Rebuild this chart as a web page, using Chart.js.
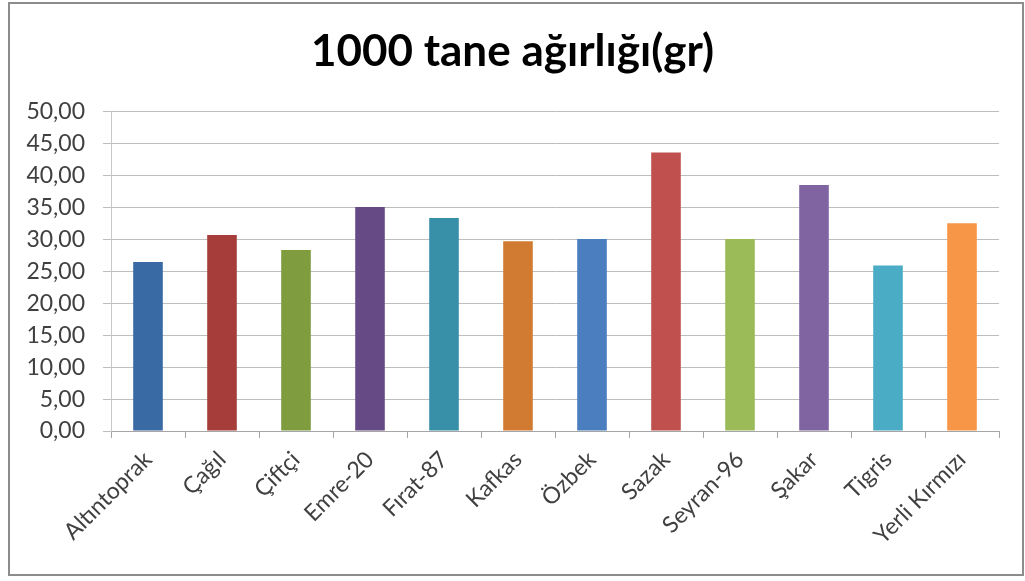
<!DOCTYPE html>
<html>
<head>
<meta charset="utf-8">
<script src="https://cdn.jsdelivr.net/npm/chart.js@4/dist/chart.umd.min.js"></script>
<style>
  html, body { margin: 0; padding: 0; background: #ffffff; }
  canvas { display: block; }
</style>
</head>
<body>
<canvas id="c" width="1025" height="581"></canvas>
<script>
// 1000-kernel weight (g) per variety
const varieties = ["Altıntoprak", "Çağıl", "Çiftçi", "Emre-20", "Fırat-87", "Kafkas",
                   "Özbek", "Sazak", "Seyran-96", "Şakar", "Tigris", "Yerli Kırmızı"];
const kernelWeight = [26.46, 30.70, 28.35, 35.09, 33.37, 29.71,
                      30.07, 43.62, 30.07, 38.55, 25.94, 32.53];
const barColors = ["#3a6aa3", "#a63d3b", "#7f9d3f", "#664a86", "#378fa8", "#d17b32",
                   "#4a7ebe", "#c0504d", "#9bbb59", "#8064a2", "#4bacc6", "#f79646"];
const yMin = 0, yMax = 50, yStep = 5;
const titleText = "1000 tane ağırlığı(gr)";

const FONT = "Lato, 'Open Sans', 'Liberation Sans', sans-serif";

// Outer frame around the whole chart
const framePlugin = {
  id: 'frame',
  afterDraw(chart) {
    const ctx = chart.ctx;
    ctx.save();
    ctx.strokeStyle = '#8c8c8c';
    ctx.lineWidth = 2;
    ctx.strokeRect(9, 3, 1014, 572);
    ctx.restore();
  }
};

new Chart(document.getElementById('c'), {
  type: 'bar',
  data: {
    labels: varieties,
    datasets: [{
      data: kernelWeight,
      backgroundColor: barColors,
      borderWidth: 0,
      categoryPercentage: 1.0,
      barPercentage: 0.4
    }]
  },
  options: {
    responsive: false,
    animation: false,
    devicePixelRatio: 1,
    layout: { padding: { left: 26, right: 26, top: 0, bottom: 0 } },
    plugins: {
      legend: { display: false },
      tooltip: { enabled: false },
      title: {
        display: true,
        text: titleText,
        color: '#000000',
        font: { family: FONT, size: 44, weight: 'bold' },
        padding: { top: 25, bottom: 34 }
      }
    },
    scales: {
      x: {
        offset: true,
        grid: {
          display: true,
          drawOnChartArea: false,
          drawTicks: true,
          tickLength: 7,
          color: '#a6a6a6',
          offset: true
        },
        border: { display: true, color: '#a6a6a6', width: 1 },
        ticks: {
          color: '#404040',
          font: { family: FONT, size: 23 },
          minRotation: 45,
          maxRotation: 45,
          autoSkip: false,
          padding: 8
        },
        afterFit(scale) { scale.height = 150; }
      },
      y: {
        min: yMin,
        max: yMax,
        grid: {
          color: '#bdbdbd',
          lineWidth: 1,
          tickLength: 8,
          drawTicks: true
        },
        border: { display: true, color: '#c8c8c8', width: 1 },
        ticks: {
          stepSize: yStep,
          color: '#404040',
          font: { family: FONT, size: 23 },
          padding: 18,
          callback: (v) => Number(v).toFixed(2).replace('.', ',')
        },
        afterFit(scale) { scale.width = 85; }
      }
    }
  },
  plugins: [framePlugin]
});
</script>
</body>
</html>
